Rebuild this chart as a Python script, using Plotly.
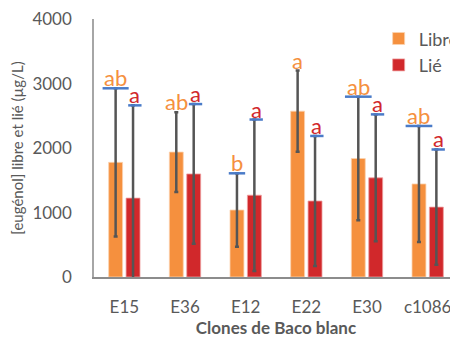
import plotly.graph_objects as go

categories = ["E15", "E36", "E12", "E22", "E30", "c1086"]
libre = [1780, 1940, 1040, 2575, 1840, 1445]
libre_err = [1150, 620, 570, 630, 960, 900]
lie = [1225, 1600, 1270, 1180, 1540, 1085]
lie_err = [1440, 1085, 1175, 1010, 985, 895]
libre_letters = ["ab", "ab", "b", "a", "ab", "ab"]
lie_letters = ["a", "a", "a", "a", "a", "a"]
libre_blue = [0.43, 0, 0.27, 0, 0.44, 0.44]
lie_blue = [0.22, 0.22, 0.22, 0.22, 0.22, 0.22]
y_ticks = [0, 1000, 2000, 3000, 4000]

ORANGE = "#F5903E"
RED = "#D1282B"
GRAY = "#595959"
BLUE = "#4A7BC8"
FONT = "Lato"

bargap = 0.426
bargroupgap = 0.2
slot = (1 - bargap) / 2
off_libre = -slot / 2
off_lie = slot / 2

fig = go.Figure()
fig.add_trace(go.Bar(
    name="Libre", x=categories, y=libre,
    marker=dict(color=ORANGE, line=dict(color="#FBD3B0", width=0.8)),
    error_y=dict(type="data", array=libre_err, color="#555555", thickness=2.5, width=2),
))
fig.add_trace(go.Bar(
    name="Lié", x=categories, y=lie,
    marker=dict(color=RED, line=dict(color="#EEA0A0", width=0.8)),
    error_y=dict(type="data", array=lie_err, color="#555555", thickness=2.5, width=2),
))

shapes = []
annotations = []
for i in range(len(categories)):
    up_l = libre[i] + libre_err[i]
    up_r = lie[i] + lie_err[i]
    xl = i + off_libre
    xr = i + off_lie
    if libre_blue[i] > 0:
        shapes.append(dict(type="line", xref="x", yref="y",
                           x0=xl - libre_blue[i] / 2, x1=xl + libre_blue[i] / 2,
                           y0=up_l, y1=up_l, line=dict(color=BLUE, width=2.5)))
    if lie_blue[i] > 0:
        shapes.append(dict(type="line", xref="x", yref="y",
                           x0=xr - lie_blue[i] / 2 + 0.03, x1=xr + lie_blue[i] / 2 + 0.03,
                           y0=up_r, y1=up_r, line=dict(color=BLUE, width=2.5)))
    annotations.append(dict(x=xl, y=up_l, xref="x", yref="y", text=libre_letters[i],
                            showarrow=False, yanchor="bottom", yshift=-5,
                            font=dict(family=FONT, size=22, color=ORANGE)))
    annotations.append(dict(x=xr + 0.03, y=up_r, xref="x", yref="y", text=lie_letters[i],
                            showarrow=False, yanchor="bottom", yshift=-5,
                            font=dict(family=FONT, size=22, color=RED)))

# the page body has an 8px margin, so the figure is 8px smaller than the window
fig.update_layout(
    width=450, height=330,
    margin=dict(l=86, r=0, t=11, b=61, autoexpand=False),
    paper_bgcolor="white", plot_bgcolor="white",
    barmode="group", bargap=bargap, bargroupgap=bargroupgap,
    font=dict(family=FONT, color=GRAY),
    shapes=shapes, annotations=annotations,
    legend=dict(x=0.782, y=0.995, xanchor="left", yanchor="top",
                font=dict(family=FONT, size=18, color=GRAY),
                bgcolor="rgba(0,0,0,0)", tracegroupgap=15, itemwidth=30),
    xaxis=dict(
        automargin=False,
        showline=True, linecolor="#8C8C8C", linewidth=1.5,
        ticks="", ticklabelstandoff=14, tickfont=dict(family=FONT, size=17, color=GRAY),
        title=dict(text="<b>Clones de Baco blanc</b>", font=dict(family=FONT, size=17, color=GRAY), standoff=14),
        range=[-0.5, 5.5],
    ),
    yaxis=dict(
        automargin=False,
        range=[0, 4006], tickmode="array", tickvals=y_ticks,
        showgrid=False, zeroline=False,
        showline=True, linecolor="#A6A6A6", linewidth=1.5,
        ticks="", ticklabelstandoff=17, ticklabeloverflow="allow",
        tickfont=dict(family=FONT, size=17, color=GRAY),
        title=dict(text="[eugénol] libre et lié (µg/L)", font=dict(family=FONT, size=15, color=GRAY), standoff=10),
    ),
)

fig.write_html("out.html")
